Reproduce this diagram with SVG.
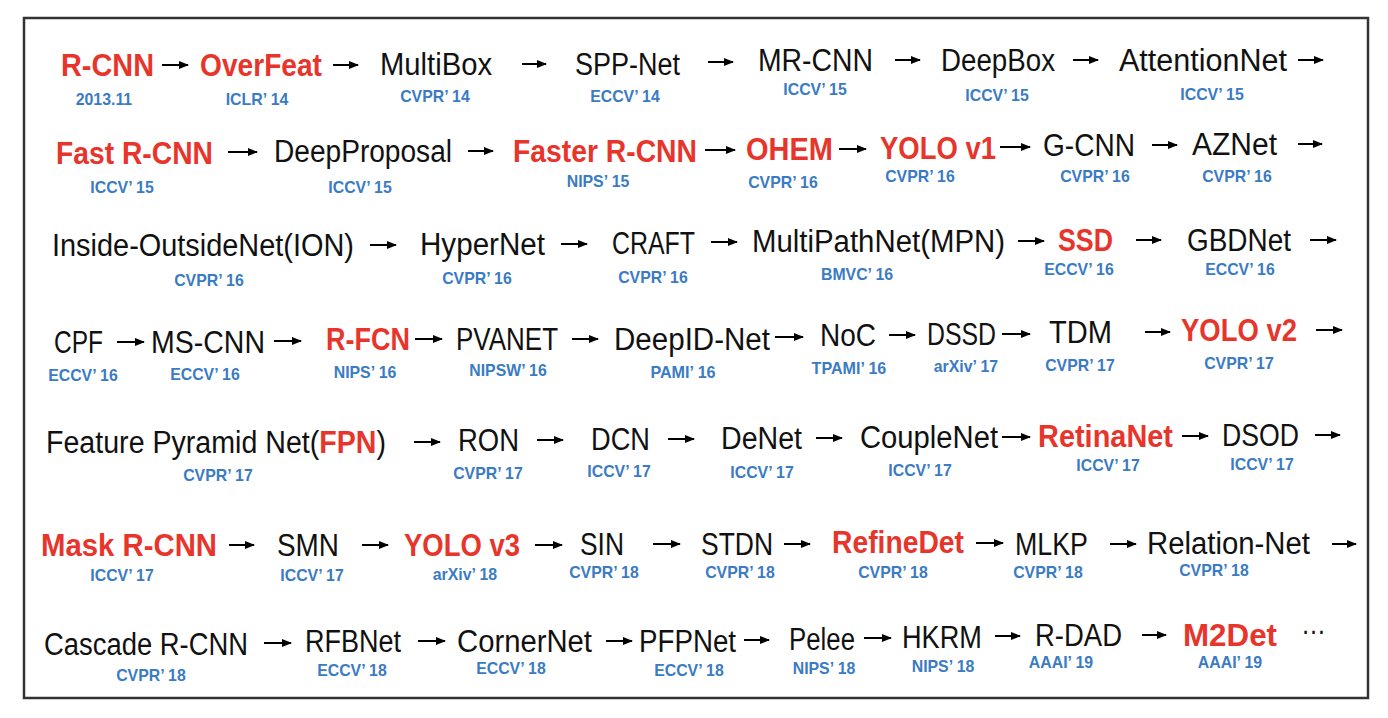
<svg xmlns="http://www.w3.org/2000/svg" width="1388" height="718" viewBox="0 0 1388 718">
<style>
.t{font-family:"Liberation Sans",Arial,sans-serif;font-size:31px;fill:#111}
.r{font-family:"Liberation Sans",Arial,sans-serif;font-size:31px;font-weight:bold;fill:#E8352B}
.l{font-family:"Liberation Sans",Arial,sans-serif;font-size:17px;font-weight:bold;fill:#3A7BC3}
.a{stroke:#000;stroke-width:2;fill:none;marker-end:url(#ah)}
</style>
<defs>
<marker id="ah" markerWidth="10" markerHeight="10" refX="9" refY="5" orient="auto" markerUnits="userSpaceOnUse"><path d="M0,1 L10,5 L0,9 z" fill="#000"/></marker>
</defs>
<rect x="0" y="0" width="1388" height="718" fill="#fff"/>
<rect x="24" y="18" width="1344" height="680" fill="none" stroke="#333" stroke-width="2.5"/>

<g id="n-rcnn"><text class="r" x="61" y="76" textLength="93" lengthAdjust="spacingAndGlyphs">R-CNN</text><text class="l" x="75.7" y="105" textLength="56.5" lengthAdjust="spacingAndGlyphs">2013.11</text></g>
<g id="n-overfeat"><text class="r" x="200" y="76" textLength="122" lengthAdjust="spacingAndGlyphs">OverFeat</text><text class="l" x="225.7" y="105" textLength="62.6" lengthAdjust="spacingAndGlyphs">ICLR’ 14</text></g>
<g id="n-multibox"><text class="t" x="380" y="75" textLength="112" lengthAdjust="spacingAndGlyphs">MultiBox</text><text class="l" x="400.2" y="102" textLength="69.5" lengthAdjust="spacingAndGlyphs">CVPR’ 14</text></g>
<g id="n-sppnet"><text class="t" x="575" y="75" textLength="105" lengthAdjust="spacingAndGlyphs">SPP-Net</text><text class="l" x="590.2" y="102" textLength="69.5" lengthAdjust="spacingAndGlyphs">ECCV’ 14</text></g>
<g id="n-mrcnn"><text class="t" x="758" y="71" textLength="115" lengthAdjust="spacingAndGlyphs">MR-CNN</text><text class="l" x="783.3" y="95" textLength="63.4" lengthAdjust="spacingAndGlyphs">ICCV’ 15</text></g>
<g id="n-deepbox"><text class="t" x="941" y="71" textLength="114" lengthAdjust="spacingAndGlyphs">DeepBox</text><text class="l" x="965.3" y="101" textLength="63.4" lengthAdjust="spacingAndGlyphs">ICCV’ 15</text></g>
<g id="n-attentionnet"><text class="t" x="1119" y="71" textLength="168" lengthAdjust="spacingAndGlyphs">AttentionNet</text><text class="l" x="1180.3" y="100" textLength="63.4" lengthAdjust="spacingAndGlyphs">ICCV’ 15</text></g>

<g id="n-fastrcnn"><text class="r" x="56" y="164" textLength="157" lengthAdjust="spacingAndGlyphs">Fast R-CNN</text><text class="l" x="90.3" y="193" textLength="63.4" lengthAdjust="spacingAndGlyphs">ICCV’ 15</text></g>
<g id="n-deepproposal"><text class="t" x="274" y="162" textLength="178" lengthAdjust="spacingAndGlyphs">DeepProposal</text><text class="l" x="328.3" y="193" textLength="63.4" lengthAdjust="spacingAndGlyphs">ICCV’ 15</text></g>
<g id="n-fasterrcnn"><text class="r" x="513" y="162" textLength="184" lengthAdjust="spacingAndGlyphs">Faster R-CNN</text><text class="l" x="566.7" y="187" textLength="62.6" lengthAdjust="spacingAndGlyphs">NIPS’ 15</text></g>
<g id="n-ohem"><text class="r" x="746" y="160" textLength="87" lengthAdjust="spacingAndGlyphs">OHEM</text><text class="l" x="748.2" y="188" textLength="69.5" lengthAdjust="spacingAndGlyphs">CVPR’ 16</text></g>
<g id="n-yolov1"><text class="r" x="880" y="159" textLength="116" lengthAdjust="spacingAndGlyphs">YOLO v1</text><text class="l" x="885.2" y="182" textLength="69.5" lengthAdjust="spacingAndGlyphs">CVPR’ 16</text></g>
<g id="n-gcnn"><text class="t" x="1043" y="156" textLength="92" lengthAdjust="spacingAndGlyphs">G-CNN</text><text class="l" x="1060.2" y="182" textLength="69.5" lengthAdjust="spacingAndGlyphs">CVPR’ 16</text></g>
<g id="n-aznet"><text class="t" x="1192" y="155" textLength="85" lengthAdjust="spacingAndGlyphs">AZNet</text><text class="l" x="1202.2" y="182" textLength="69.5" lengthAdjust="spacingAndGlyphs">CVPR’ 16</text></g>

<g id="n-ion"><text class="t" x="52" y="256" textLength="302" lengthAdjust="spacingAndGlyphs">Inside-OutsideNet(ION)</text><text class="l" x="174.2" y="286" textLength="69.5" lengthAdjust="spacingAndGlyphs">CVPR’ 16</text></g>
<g id="n-hypernet"><text class="t" x="420" y="255" textLength="125" lengthAdjust="spacingAndGlyphs">HyperNet</text><text class="l" x="442.2" y="284" textLength="69.5" lengthAdjust="spacingAndGlyphs">CVPR’ 16</text></g>
<g id="n-craft"><text class="t" x="612" y="254" textLength="83" lengthAdjust="spacingAndGlyphs">CRAFT</text><text class="l" x="618.2" y="283" textLength="69.5" lengthAdjust="spacingAndGlyphs">CVPR’ 16</text></g>
<g id="n-mpn"><text class="t" x="752" y="252" textLength="253" lengthAdjust="spacingAndGlyphs">MultiPathNet(MPN)</text><text class="l" x="821" y="280" textLength="72.1" lengthAdjust="spacingAndGlyphs">BMVC’ 16</text></g>
<g id="n-ssd"><text class="r" x="1058" y="251" textLength="55" lengthAdjust="spacingAndGlyphs">SSD</text><text class="l" x="1044.2" y="275" textLength="69.5" lengthAdjust="spacingAndGlyphs">ECCV’ 16</text></g>
<g id="n-gbdnet"><text class="t" x="1187" y="251" textLength="104" lengthAdjust="spacingAndGlyphs">GBDNet</text><text class="l" x="1205.2" y="275" textLength="69.5" lengthAdjust="spacingAndGlyphs">ECCV’ 16</text></g>

<g id="n-cpf"><text class="t" x="54" y="353" textLength="49" lengthAdjust="spacingAndGlyphs">CPF</text><text class="l" x="48.2" y="381" textLength="69.5" lengthAdjust="spacingAndGlyphs">ECCV’ 16</text></g>
<g id="n-mscnn"><text class="t" x="151" y="353" textLength="114" lengthAdjust="spacingAndGlyphs">MS-CNN</text><text class="l" x="170.2" y="380" textLength="69.5" lengthAdjust="spacingAndGlyphs">ECCV’ 16</text></g>
<g id="n-rfcn"><text class="r" x="326" y="350" textLength="84" lengthAdjust="spacingAndGlyphs">R-FCN</text><text class="l" x="333.7" y="378" textLength="62.6" lengthAdjust="spacingAndGlyphs">NIPS’ 16</text></g>
<g id="n-pvanet"><text class="t" x="456" y="350" textLength="102" lengthAdjust="spacingAndGlyphs">PVANET</text><text class="l" x="469.3" y="376" textLength="77.4" lengthAdjust="spacingAndGlyphs">NIPSW’ 16</text></g>
<g id="n-deepidnet"><text class="t" x="614" y="350" textLength="156" lengthAdjust="spacingAndGlyphs">DeepID-Net</text><text class="l" x="650.4" y="378" textLength="65.2" lengthAdjust="spacingAndGlyphs">PAMI’ 16</text></g>
<g id="n-noc"><text class="t" x="820" y="346" textLength="56" lengthAdjust="spacingAndGlyphs">NoC</text><text class="l" x="811.6" y="374" textLength="74.7" lengthAdjust="spacingAndGlyphs">TPAMI’ 16</text></g>
<g id="n-dssd"><text class="t" x="927" y="345" textLength="69" lengthAdjust="spacingAndGlyphs">DSSD</text><text class="l" x="933.8" y="372" textLength="64.3" lengthAdjust="spacingAndGlyphs">arXiv’ 17</text></g>
<g id="n-tdm"><text class="t" x="1049" y="343" textLength="63" lengthAdjust="spacingAndGlyphs">TDM</text><text class="l" x="1045.2" y="371" textLength="69.5" lengthAdjust="spacingAndGlyphs">CVPR’ 17</text></g>
<g id="n-yolov2"><text class="r" x="1181" y="341" textLength="116" lengthAdjust="spacingAndGlyphs">YOLO v2</text><text class="l" x="1204.2" y="369" textLength="69.5" lengthAdjust="spacingAndGlyphs">CVPR’ 17</text></g>

<g id="n-fpn"><text class="t" x="46" y="453" textLength="340" lengthAdjust="spacingAndGlyphs">Feature Pyramid Net(<tspan font-weight="bold" fill="#E8352B">FPN</tspan>)</text><text class="l" x="183.2" y="481" textLength="69.5" lengthAdjust="spacingAndGlyphs">CVPR’ 17</text></g>
<g id="n-ron"><text class="t" x="458" y="451" textLength="61" lengthAdjust="spacingAndGlyphs">RON</text><text class="l" x="453.2" y="479" textLength="69.5" lengthAdjust="spacingAndGlyphs">CVPR’ 17</text></g>
<g id="n-dcn"><text class="t" x="591" y="450" textLength="59" lengthAdjust="spacingAndGlyphs">DCN</text><text class="l" x="587.3" y="477" textLength="63.4" lengthAdjust="spacingAndGlyphs">ICCV’ 17</text></g>
<g id="n-denet"><text class="t" x="721" y="449" textLength="81" lengthAdjust="spacingAndGlyphs">DeNet</text><text class="l" x="730.3" y="478" textLength="63.4" lengthAdjust="spacingAndGlyphs">ICCV’ 17</text></g>
<g id="n-couplenet"><text class="t" x="860" y="448" textLength="138" lengthAdjust="spacingAndGlyphs">CoupleNet</text><text class="l" x="888.3" y="476" textLength="63.4" lengthAdjust="spacingAndGlyphs">ICCV’ 17</text></g>
<g id="n-retinanet"><text class="r" x="1038" y="447" textLength="135" lengthAdjust="spacingAndGlyphs">RetinaNet</text><text class="l" x="1076.3" y="471" textLength="63.4" lengthAdjust="spacingAndGlyphs">ICCV’ 17</text></g>
<g id="n-dsod"><text class="t" x="1222" y="446" textLength="77" lengthAdjust="spacingAndGlyphs">DSOD</text><text class="l" x="1230.3" y="470" textLength="63.4" lengthAdjust="spacingAndGlyphs">ICCV’ 17</text></g>

<g id="n-maskrcnn"><text class="r" x="41" y="556" textLength="176" lengthAdjust="spacingAndGlyphs">Mask R-CNN</text><text class="l" x="90.3" y="581" textLength="63.4" lengthAdjust="spacingAndGlyphs">ICCV’ 17</text></g>
<g id="n-smn"><text class="t" x="277" y="556" textLength="62" lengthAdjust="spacingAndGlyphs">SMN</text><text class="l" x="280.3" y="581" textLength="63.4" lengthAdjust="spacingAndGlyphs">ICCV’ 17</text></g>
<g id="n-yolov3"><text class="r" x="404" y="556" textLength="116" lengthAdjust="spacingAndGlyphs">YOLO v3</text><text class="l" x="432.8" y="580" textLength="64.3" lengthAdjust="spacingAndGlyphs">arXiv’ 18</text></g>
<g id="n-sin"><text class="t" x="580" y="555" textLength="44" lengthAdjust="spacingAndGlyphs">SIN</text><text class="l" x="569.2" y="578" textLength="69.5" lengthAdjust="spacingAndGlyphs">CVPR’ 18</text></g>
<g id="n-stdn"><text class="t" x="701" y="555" textLength="72" lengthAdjust="spacingAndGlyphs">STDN</text><text class="l" x="705.2" y="578" textLength="69.5" lengthAdjust="spacingAndGlyphs">CVPR’ 18</text></g>
<g id="n-refinedet"><text class="r" x="832" y="553" textLength="132" lengthAdjust="spacingAndGlyphs">RefineDet</text><text class="l" x="858.2" y="578" textLength="69.5" lengthAdjust="spacingAndGlyphs">CVPR’ 18</text></g>
<g id="n-mlkp"><text class="t" x="1015" y="555" textLength="73" lengthAdjust="spacingAndGlyphs">MLKP</text><text class="l" x="1013.2" y="578" textLength="69.5" lengthAdjust="spacingAndGlyphs">CVPR’ 18</text></g>
<g id="n-relationnet"><text class="t" x="1147" y="554" textLength="163" lengthAdjust="spacingAndGlyphs">Relation-Net</text><text class="l" x="1179.2" y="576" textLength="69.5" lengthAdjust="spacingAndGlyphs">CVPR’ 18</text></g>

<g id="n-cascadercnn"><text class="t" x="44" y="655" textLength="204" lengthAdjust="spacingAndGlyphs">Cascade R-CNN</text><text class="l" x="116.2" y="681" textLength="69.5" lengthAdjust="spacingAndGlyphs">CVPR’ 18</text></g>
<g id="n-rfbnet"><text class="t" x="305" y="652" textLength="96" lengthAdjust="spacingAndGlyphs">RFBNet</text><text class="l" x="317.2" y="676" textLength="69.5" lengthAdjust="spacingAndGlyphs">ECCV’ 18</text></g>
<g id="n-cornernet"><text class="t" x="457" y="652" textLength="135" lengthAdjust="spacingAndGlyphs">CornerNet</text><text class="l" x="476.2" y="674" textLength="69.5" lengthAdjust="spacingAndGlyphs">ECCV’ 18</text></g>
<g id="n-pfpnet"><text class="t" x="639" y="652" textLength="97" lengthAdjust="spacingAndGlyphs">PFPNet</text><text class="l" x="654.2" y="676" textLength="69.5" lengthAdjust="spacingAndGlyphs">ECCV’ 18</text></g>
<g id="n-pelee"><text class="t" x="789" y="650" textLength="66" lengthAdjust="spacingAndGlyphs">Pelee</text><text class="l" x="792.7" y="674" textLength="62.6" lengthAdjust="spacingAndGlyphs">NIPS’ 18</text></g>
<g id="n-hkrm"><text class="t" x="902" y="648" textLength="80" lengthAdjust="spacingAndGlyphs">HKRM</text><text class="l" x="911.7" y="672" textLength="62.6" lengthAdjust="spacingAndGlyphs">NIPS’ 18</text></g>
<g id="n-rdad"><text class="t" x="1035" y="646" textLength="87" lengthAdjust="spacingAndGlyphs">R-DAD</text><text class="l" x="1028.8" y="668" textLength="64.3" lengthAdjust="spacingAndGlyphs">AAAI’ 19</text></g>
<g id="n-m2det"><text class="r" x="1183" y="646" textLength="94" lengthAdjust="spacingAndGlyphs">M2Det</text><text class="l" x="1197.8" y="668" textLength="64.3" lengthAdjust="spacingAndGlyphs">AAAI’ 19</text></g>
<g id="n-more"><text class="t" x="1301" y="634" textLength="25" lengthAdjust="spacingAndGlyphs">…</text></g>

<g id="connectors">
<line class="a" x1="162" y1="65" x2="188" y2="65"/>
<line class="a" x1="333" y1="65" x2="358" y2="65"/>
<line class="a" x1="522" y1="64" x2="546" y2="64"/>
<line class="a" x1="708" y1="62" x2="733" y2="62"/>
<line class="a" x1="895" y1="60" x2="920" y2="60"/>
<line class="a" x1="1073" y1="60" x2="1098" y2="60"/>
<line class="a" x1="1298" y1="60" x2="1323" y2="60"/>

<line class="a" x1="228" y1="152" x2="257" y2="152"/>
<line class="a" x1="468" y1="151" x2="493" y2="151"/>
<line class="a" x1="705" y1="150" x2="735" y2="150"/>
<line class="a" x1="839" y1="149" x2="866" y2="149"/>
<line class="a" x1="1000" y1="147" x2="1030" y2="147"/>
<line class="a" x1="1152" y1="145" x2="1177" y2="145"/>
<line class="a" x1="1298" y1="144" x2="1322" y2="144"/>

<line class="a" x1="370" y1="245" x2="396" y2="245"/>
<line class="a" x1="561" y1="244" x2="587" y2="244"/>
<line class="a" x1="711" y1="242" x2="737" y2="242"/>
<line class="a" x1="1018" y1="241" x2="1044" y2="241"/>
<line class="a" x1="1136" y1="240" x2="1161" y2="240"/>
<line class="a" x1="1310" y1="240" x2="1336" y2="240"/>

<line class="a" x1="117" y1="342" x2="144" y2="342"/>
<line class="a" x1="274" y1="341" x2="301" y2="341"/>
<line class="a" x1="415" y1="339" x2="442" y2="339"/>
<line class="a" x1="572" y1="339" x2="598" y2="339"/>
<line class="a" x1="775" y1="337" x2="803" y2="337"/>
<line class="a" x1="889" y1="335" x2="915" y2="335"/>
<line class="a" x1="1002" y1="334" x2="1030" y2="334"/>
<line class="a" x1="1145" y1="332" x2="1170" y2="332"/>
<line class="a" x1="1316" y1="330" x2="1342" y2="330"/>

<line class="a" x1="414" y1="442" x2="440" y2="442"/>
<line class="a" x1="537" y1="440" x2="563" y2="440"/>
<line class="a" x1="668" y1="439" x2="694" y2="439"/>
<line class="a" x1="816" y1="438" x2="842" y2="438"/>
<line class="a" x1="1002" y1="437" x2="1030" y2="437"/>
<line class="a" x1="1182" y1="436" x2="1208" y2="436"/>
<line class="a" x1="1315" y1="435" x2="1340" y2="435"/>

<line class="a" x1="229" y1="545" x2="254" y2="545"/>
<line class="a" x1="362" y1="545" x2="388" y2="545"/>
<line class="a" x1="535" y1="545" x2="562" y2="545"/>
<line class="a" x1="653" y1="544" x2="680" y2="544"/>
<line class="a" x1="784" y1="544" x2="810" y2="544"/>
<line class="a" x1="976" y1="543" x2="1003" y2="543"/>
<line class="a" x1="1110" y1="544" x2="1136" y2="544"/>
<line class="a" x1="1332" y1="544" x2="1356" y2="544"/>

<line class="a" x1="264" y1="643" x2="291" y2="643"/>
<line class="a" x1="418" y1="641" x2="445" y2="641"/>
<line class="a" x1="606" y1="641" x2="632" y2="641"/>
<line class="a" x1="744" y1="640" x2="769" y2="640"/>
<line class="a" x1="864" y1="638" x2="891" y2="638"/>
<line class="a" x1="995" y1="636" x2="1020" y2="636"/>
<line class="a" x1="1142" y1="635" x2="1166" y2="635"/>
</g>
</svg>
